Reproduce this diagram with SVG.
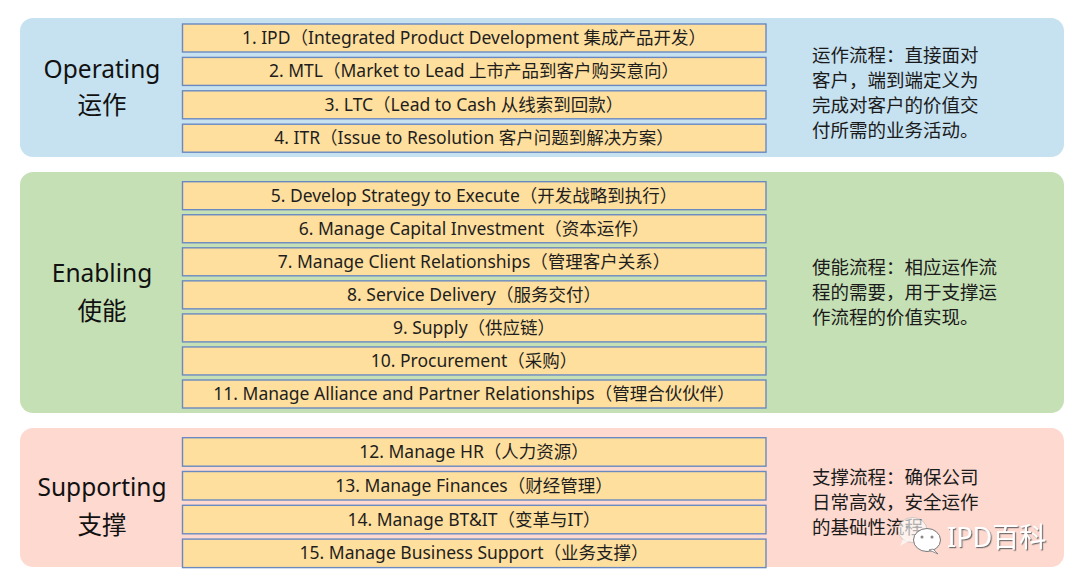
<svg xmlns="http://www.w3.org/2000/svg" width="1080" height="585" viewBox="0 0 1080 585">
<style>
.box{fill:#FFDF9D;stroke:#6A89C2;stroke-width:1.4}
.bt{font-family:"Noto Sans","Noto Sans CJK SC",sans-serif;font-size:17.5px;fill:#1E1E1E;text-anchor:middle}
.lab{font-family:"Noto Sans","Noto Sans CJK SC",sans-serif;font-size:24.5px;fill:#111;text-anchor:middle}
.desc{font-family:"Noto Sans CJK SC",sans-serif;font-size:18.5px;fill:#1A1A1A}
.wm{font-family:"Noto Sans","Noto Sans CJK SC",sans-serif;font-size:27px;fill:#FFFFFF}
</style>
<defs>
<filter id="sh" x="-10%" y="-20%" width="130%" height="150%">
<feDropShadow dx="1.2" dy="1.2" stdDeviation="0.6" flood-color="#555" flood-opacity="0.8"/>
</filter>
</defs>
<rect width="1080" height="585" fill="#FFFFFF"/>

<g id="operating">
<rect x="20" y="18" width="1044" height="139" rx="13" fill="#C6E1F0"/>
<text class="lab" x="102" y="78">Operating</text>
<text class="lab" x="102" y="114">运作</text>
<text class="desc" x="812" y="62">运作流程：直接面对</text>
<text class="desc" x="812" y="87">客户，端到端定义为</text>
<text class="desc" x="812" y="112">完成对客户的价值交</text>
<text class="desc" x="812" y="137">付所需的业务活动。</text>
</g>
<g id="enabling">
<rect x="20" y="172" width="1044" height="241" rx="13" fill="#C6E0B6"/>
<text class="lab" x="102" y="282">Enabling</text>
<text class="lab" x="102" y="320">使能</text>
<text class="desc" x="812" y="273.5">使能流程：相应运作流</text>
<text class="desc" x="812" y="298.5">程的需要，用于支撑运</text>
<text class="desc" x="812" y="323.5">作流程的价值实现。</text>
</g>
<g id="supporting">
<rect x="20" y="428" width="1044" height="139" rx="13" fill="#FDD9D0"/>
<text class="lab" x="102" y="496">Supporting</text>
<text class="lab" x="102" y="534">支撑</text>
<text class="desc" x="812" y="483.5">支撑流程：确保公司</text>
<text class="desc" x="812" y="508.5">日常高效，安全运作</text>
<text class="desc" x="812" y="533.5">的基础性流程。</text>
</g>

<g id="p1"><rect class="box" x="182.5" y="24" width="583.5" height="28"/><text class="bt" x="474" y="44">1. IPD（Integrated Product Development 集成产品开发）</text></g>
<g id="p2"><rect class="box" x="182.5" y="57.4" width="583.5" height="28"/><text class="bt" x="474" y="77.4">2. MTL（Market to Lead 上市产品到客户购买意向）</text></g>
<g id="p3"><rect class="box" x="182.5" y="90.8" width="583.5" height="28"/><text class="bt" x="474" y="110.8">3. LTC（Lead to Cash 从线索到回款）</text></g>
<g id="p4"><rect class="box" x="182.5" y="124.2" width="583.5" height="28"/><text class="bt" x="474" y="144.2">4. ITR（Issue to Resolution 客户问题到解决方案）</text></g>

<g id="p5"><rect class="box" x="182.5" y="181.7" width="583.5" height="28"/><text class="bt" x="474" y="201.7">5. Develop Strategy to Execute（开发战略到执行）</text></g>
<g id="p6"><rect class="box" x="182.5" y="214.75" width="583.5" height="28"/><text class="bt" x="474" y="234.75">6. Manage Capital Investment（资本运作）</text></g>
<g id="p7"><rect class="box" x="182.5" y="247.8" width="583.5" height="28"/><text class="bt" x="474" y="267.8">7. Manage Client Relationships（管理客户关系）</text></g>
<g id="p8"><rect class="box" x="182.5" y="280.85" width="583.5" height="28"/><text class="bt" x="474" y="300.85">8. Service Delivery（服务交付）</text></g>
<g id="p9"><rect class="box" x="182.5" y="313.9" width="583.5" height="28"/><text class="bt" x="474" y="333.9">9. Supply（供应链）</text></g>
<g id="p10"><rect class="box" x="182.5" y="346.95" width="583.5" height="28"/><text class="bt" x="474" y="366.95">10. Procurement（采购）</text></g>
<g id="p11"><rect class="box" x="182.5" y="380" width="583.5" height="28"/><text class="bt" x="474" y="400">11. Manage Alliance and Partner Relationships（管理合伙伙伴）</text></g>

<g id="p12"><rect class="box" x="182.5" y="437.7" width="583.5" height="28.5"/><text class="bt" x="474" y="458">12. Manage HR（人力资源）</text></g>
<g id="p13"><rect class="box" x="182.5" y="471.5" width="583.5" height="28.5"/><text class="bt" x="474" y="491.8">13. Manage Finances（财经管理）</text></g>
<g id="p14"><rect class="box" x="182.5" y="505.3" width="583.5" height="28.5"/><text class="bt" x="474" y="525.6">14. Manage BT&amp;IT（变革与IT）</text></g>
<g id="p15"><rect class="box" x="182.5" y="539.1" width="583.5" height="28.5"/><text class="bt" x="474" y="559.4">15. Manage Business Support（业务支撑）</text></g>

<g id="connectors"></g>

<g id="watermark">
<ellipse cx="912.5" cy="530" rx="14.5" ry="12.5" fill="#FFFFFF" fill-opacity="0.65" stroke="#999" stroke-opacity="0.5" stroke-width="0.8"/>
<path d="M903 539 L900 546 L909 541 Z" fill="#FFFFFF" fill-opacity="0.65"/>
<ellipse cx="927" cy="540" rx="13.5" ry="11.5" fill="#FFFFFF" stroke="#777" stroke-width="1"/>
<path d="M933 549 L938 554 L929 550 Z" fill="#FFFFFF" stroke="#777" stroke-width="0.8"/>
<circle cx="922" cy="537" r="1.5" fill="#888"/>
<circle cx="932" cy="537" r="1.5" fill="#888"/>
<circle cx="907" cy="527" r="1.4" fill="#AAA"/>
<circle cx="917" cy="527" r="1.4" fill="#AAA"/>
<text class="wm" x="947" y="547" filter="url(#sh)">IPD百科</text>
</g>
</svg>
